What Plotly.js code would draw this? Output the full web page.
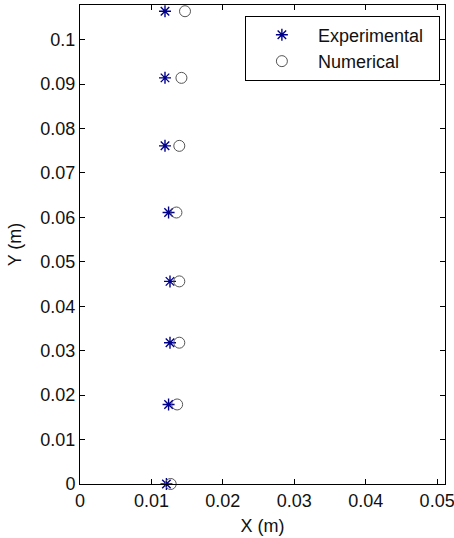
<!DOCTYPE html>
<html><head><meta charset="utf-8">
<script src="https://cdn.plot.ly/plotly-3.0.1.min.js"></script>
<style>body{margin:0;background:#fff}</style>
</head><body>
<div id="chart" style="width:454px;height:538px"></div>
<script>
const expX = [0.0119, 0.0119, 0.0119, 0.0124, 0.0126, 0.0126, 0.0124, 0.0121];
const expY = [0.1064, 0.0914, 0.0761, 0.0611, 0.0456, 0.0318, 0.0179, 0.0];
const numX = [0.0147, 0.0142, 0.0139, 0.0135, 0.0139, 0.0139, 0.0136, 0.0127];
const numY = [0.1064, 0.0914, 0.0761, 0.0611, 0.0456, 0.0318, 0.0179, 0.0];
const xTicks = [0, 0.01, 0.02, 0.03, 0.04, 0.05];
const yTicks = [0, 0.01, 0.02, 0.03, 0.04, 0.05, 0.06, 0.07, 0.08, 0.09, 0.1];
const xTickText = ['0', '0.01', '0.02', '0.03', '0.04', '0.05'];
const yTickText = ['0', '0.01', '0.02', '0.03', '0.04', '0.05', '0.06', '0.07', '0.08', '0.09', '0.1'];

const font = {family: 'Liberation Sans, Arial, sans-serif', size: 18, color: '#111'};
const traces = [
  {x: expX, y: expY, name: 'Experimental&nbsp;&nbsp;', type: 'scatter', mode: 'markers',
   marker: {symbol: 'asterisk-open', size: 10, color: '#00008b', line: {color: '#00008b', width: 1.4}}, cliponaxis: false},
  {x: numX, y: numY, name: 'Numerical', type: 'scatter', mode: 'markers',
   marker: {symbol: 'circle-open', size: 11, color: '#555', line: {color: '#555', width: 1}}, cliponaxis: false}
];
const axisCommon = {showgrid: false, zeroline: false, showline: true, linecolor: '#000', linewidth: 1,
  mirror: 'ticks', ticks: 'inside', ticklen: 5, tickcolor: '#000', tickfont: font, ticklabeloverflow: 'allow'};
const layout = {
  width: 454, height: 538,
  margin: {l: 80, r: 9, t: 5, b: 54},
  paper_bgcolor: '#fff', plot_bgcolor: '#fff',
  font: font,
  showlegend: true,
  legend: {x: 0.986, xanchor: 'right', y: 0.978, yanchor: 'top', bgcolor: '#fff',
    bordercolor: '#000', borderwidth: 1, font: font, itemwidth: 62, tracegroupgap: 0},
  xaxis: Object.assign({}, axisCommon, {range: [0, 0.0511], tickvals: xTicks, ticktext: xTickText,
    title: {text: 'X (m)', font: font, standoff: 9}}),
  yaxis: Object.assign({}, axisCommon, {range: [0, 0.1078], tickvals: yTicks, ticktext: yTickText,
    title: {text: 'Y (m)', font: font, standoff: 14}})
};
Plotly.newPlot('chart', traces, layout, {displayModeBar: false, staticPlot: true});
</script>
</body></html>
